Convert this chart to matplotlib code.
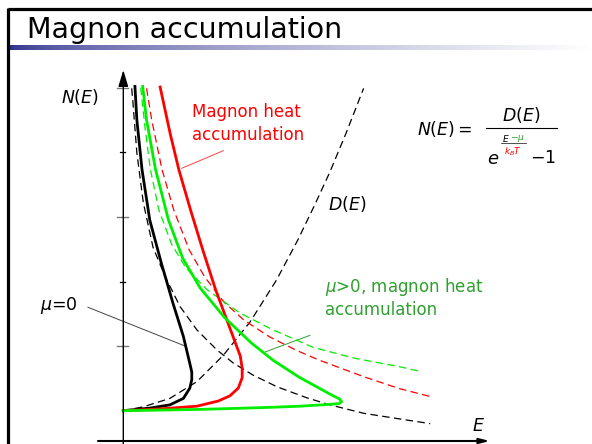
import numpy as np
import matplotlib.pyplot as plt

plt.rcParams['mathtext.fontset'] = 'dejavusans'

# curves (E and N in units of one y-tick step)
e_dos = [0, 0.31, 0.72, 1.14, 1.55, 1.96, 2.37, 2.70, 2.97, 3.20, 3.45, 3.72]
n_dos = [0, 0.06, 0.19, 0.45, 0.86, 1.37, 2.02, 2.64, 3.20, 3.70, 4.30, 4.99]

e_bose0 = [0.13, 0.15, 0.21, 0.31, 0.46, 0.65, 0.88, 1.14, 1.45, 1.70, 2.01,
           2.38, 2.84, 3.20, 3.72, 4.23, 4.75]
n_bose0 = [4.99, 4.76, 3.99, 3.22, 2.53, 2.07, 1.61, 1.25, 0.94, 0.74, 0.55,
           0.37, 0.20, 0.09, -0.04, -0.12, -0.20]

e_n0 = [0.18, 0.21, 0.29, 0.41, 0.59, 0.77, 0.93, 1.03, 1.06, 1.06, 1.03,
        0.93, 0.72, 0.41, 0.0]
n_n0 = [5.02, 4.50, 3.73, 2.95, 2.28, 1.66, 1.15, 0.73, 0.60, 0.48, 0.35,
        0.19, 0.09, 0.04, 0.0]

e_bose_hot = [0.36, 0.44, 0.60, 0.78, 1.02, 1.26, 1.56, 1.87, 2.27, 2.69,
              3.04, 3.74, 4.28, 4.75]
n_bose_hot = [4.99, 4.50, 3.73, 3.11, 2.49, 2.07, 1.68, 1.40, 1.14, 0.93,
              0.78, 0.52, 0.34, 0.22]

e_n_hot = [0.57, 0.73, 0.86, 1.04, 1.23, 1.43, 1.59, 1.72, 1.81, 1.84, 1.84,
           1.78, 1.65, 1.47, 1.14, 0.60, 0.0]
n_n_hot = [5.01, 4.27, 3.73, 3.11, 2.49, 1.87, 1.44, 1.09, 0.85, 0.66, 0.51,
           0.35, 0.23, 0.15, 0.07, 0.03, 0.0]

e_bose_mu = [0.27, 0.34, 0.42, 0.55, 0.75, 0.97, 1.30, 1.81, 2.32, 2.94,
             3.59, 4.28, 4.59]
n_bose_mu = [5.00, 4.35, 3.73, 3.11, 2.57, 2.21, 1.87, 1.51, 1.25, 0.98,
             0.81, 0.68, 0.61]

e_n_mu = [0.30, 0.36, 0.50, 0.70, 0.92, 1.19, 1.57, 1.98, 2.32, 2.72, 3.03,
          3.23, 3.35, 3.38, 3.34, 3.22, 2.74, 2.22, 1.19, 0.0]
n_n_mu = [5.02, 4.50, 3.73, 2.95, 2.36, 1.90, 1.44, 1.05, 0.78, 0.52, 0.35,
          0.24, 0.18, 0.14, 0.11, 0.10, 0.07, 0.05, 0.02, 0.0]

y_ticks = [1, 2, 3, 4, 5]

W, H = 592, 444
X0, Y0, S = 123.3, 410.7, 64.6   # pixel position of origin, pixels per unit

fig = plt.figure(figsize=(W / 100, H / 100), dpi=100)

# slide layer in pixel coordinates
slide = fig.add_axes([0, 0, 1, 1])
slide.axis('off')

slide.plot([8, 8], [8, H], color='black', lw=2.3, solid_capstyle='butt')
slide.plot([8, W], [9.5, 9.5], color='black', lw=2.3, solid_capstyle='butt')

t = np.linspace(0, 1, 400) ** 0.6
navy = np.array([0.17, 0.18, 0.55])
grad = navy[None, :] + (1 - navy[None, :]) * t[:, None]
slide.imshow(grad[None, :, :], extent=[9.5, 590, 50.5, 45.5], aspect='auto')
slide.set_xlim(0, W)
slide.set_ylim(H, 0)

slide.text(27, 38, 'Magnon accumulation', fontsize=20.5, color='black',
           va='baseline', ha='left')

# formula
slide.text(417, 129, r'$N(E)=$', fontsize=12.5, va='center', ha='left')
slide.text(521, 115, r'$D(E)$', fontsize=12.5, va='center', ha='center')
slide.plot([486, 557], [128.3, 128.3], color='black', lw=0.8)
slide.text(493, 159, r'$e$', fontsize=13, va='center', ha='center')
slide.text(506, 138, r'$E$', fontsize=6.5, va='center', ha='center')
slide.text(517, 138, r'$-\mu$', fontsize=6.5, va='center', ha='center',
           color='#2EA02E')
slide.plot([500.5, 525.5], [143.3, 143.3], color='#333333', lw=0.6)
slide.text(513, 151.5, r'$k_BT$', fontsize=6.5, va='center', ha='center',
           color='#FF0000')
slide.text(543, 158, r'$-1$', fontsize=12.5, va='center', ha='center')

# labels
slide.text(80, 97, r'$N(E)$', fontsize=12.5, va='center', ha='center')
slide.text(347, 204, r'$D(E)$', fontsize=12.5, va='center', ha='center')
slide.text(478, 426, r'$E$', fontsize=12.5, va='center', ha='center')
slide.text(40, 305, r'$\mu$=0', fontsize=12.5, va='center', ha='left')
slide.text(192, 116.5, 'Magnon heat', fontsize=12, color='#FF0000',
           va='baseline', ha='left')
slide.text(192, 139.5, 'accumulation', fontsize=12, color='#FF0000',
           va='baseline', ha='left')
slide.text(325, 291.5, r'$\mu$>0, magnon heat', fontsize=12,
           color='#2EA02E', va='baseline', ha='left')
slide.text(325, 314.5, 'accumulation', fontsize=12, color='#2EA02E',
           va='baseline', ha='left')

# leader lines
slide.plot([181.7, 223.3], [168.3, 150.7], color='#FF4040', lw=0.7)
slide.plot([88, 185], [307.3, 346], color='#444444', lw=0.7)
slide.plot([265, 310], [352, 335.3], color='#2EA02E', lw=0.7)

# plot layer in data units
ax = fig.add_axes([0, 0, 1, 1])
ax.set_xlim((0 - X0) / S, (W - X0) / S)
ax.set_ylim((Y0 - H) / S, Y0 / S)
ax.axis('off')
ax.patch.set_alpha(0)

x_bottom = (Y0 - 441) / S
ax.annotate('', xy=(0, (Y0 - 70) / S), xytext=(0, (Y0 - H) / S),
            arrowprops=dict(arrowstyle='-|>,head_length=1.0,head_width=0.3',
                            color='black', lw=1.0, shrinkA=0, shrinkB=0,
                            mutation_scale=10))
ax.annotate('', xy=((490 - X0) / S, x_bottom), xytext=((98 - X0) / S, x_bottom),
            arrowprops=dict(arrowstyle='-|>,head_length=0.6,head_width=0.15',
                            color='black', lw=1.5, shrinkA=0, shrinkB=0,
                            mutation_scale=10))

for n in y_ticks:
    if n % 2:
        ax.plot([-0.1, 0.08], [n, n], color='#777777', lw=1.0)
    else:
        ax.plot([-0.05, 0.03], [n, n], color='black', lw=0.9)

dash = dict(lw=0.9, dashes=(6, 3.5))
ax.plot(e_dos, n_dos, color='black', **dash)
ax.plot(e_bose0, n_bose0, color='black', **dash)
ax.plot(e_bose_hot, n_bose_hot, color='#FF0000', **dash)
ax.plot(e_bose_mu, n_bose_mu, color='#00EE00', **dash)

ax.plot(e_n0, n_n0, color='black', lw=2.0, solid_joinstyle='round')
ax.plot(e_n_hot, n_n_hot, color='#FF0000', lw=2.0, solid_joinstyle='round')
ax.plot(e_n_mu, n_n_mu, color='#00EE00', lw=2.0, solid_joinstyle='round')

fig.savefig('out.png', dpi=100)
